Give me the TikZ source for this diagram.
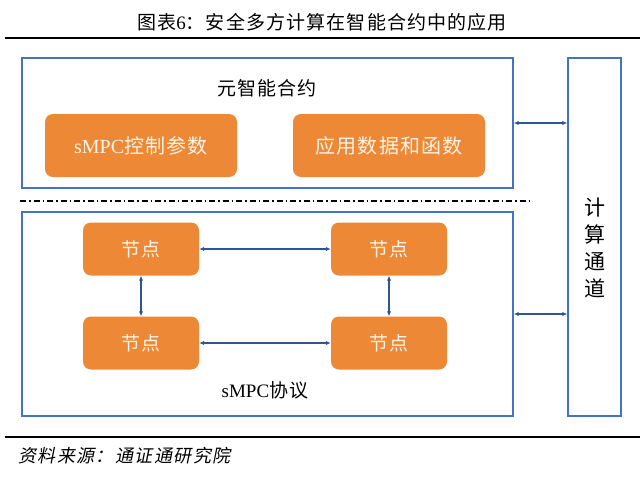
\documentclass[tikz,border=0pt]{standalone}
\usepackage{fontspec}
\setmainfont{Liberation Serif}
\newfontfamily\cjk{Noto Sans CJK SC}[LetterSpace=6]
\newfontfamily\cjkslant{Noto Sans CJK SC}[FakeSlant=0.2, LetterSpace=8]
\usetikzlibrary{arrows.meta,positioning}
\definecolor{boxorange}{RGB}{237,137,54}
\definecolor{boxtext}{RGB}{253,243,228}
\definecolor{lineblue}{RGB}{68,114,196}
\definecolor{arrowblue}{RGB}{47,85,151}

\begin{document}
\begin{tikzpicture}[
    x=1pt, y=-1pt,
    every node/.style={font=\fontsize{19}{22}\selectfont, inner sep=0pt},
    frame/.style={draw=lineblue, line width=1.4pt},
    block/.style={rectangle, rounded corners=8pt, fill=boxorange, text=boxtext},
    link/.style={{Latex[length=5pt,width=4.5pt]}-{Latex[length=5pt,width=4.5pt]}, arrowblue, line width=1.3pt},
    rule/.style={line width=2.6pt}
  ]
  \useasboundingbox (0,0) rectangle (640,480);
  % title and rules
  \node (title) at (322,22) {\fontsize{19}{22}\selectfont\cjk 图表\rmfamily 6\cjk ：安全多方计算在智能合约中的应用};
  \draw[rule] (5,38) -- (640,38);
  \draw[rule] (5,437) -- (640,437);
  \node[anchor=west] (source) at (18,456) {\fontsize{18}{20}\selectfont\cjkslant 资料来源：通证通研究院};

  % frames
  \node[frame, minimum width=491pt, minimum height=130pt] (meta) at (267.5,123) {};
  \node[frame, minimum width=491pt, minimum height=204pt] (proto) at (267.5,314) {};
  \node[frame, minimum width=53pt, minimum height=358pt] (channel) at (594.5,237) {};
  \draw[line width=1.2pt, dash pattern=on 6pt off 3pt on 1.5pt off 3pt] (20,201) -- (530,201);

  \node (metalab) at (267,88) {\cjk 元智能合约};
  \node (protolab) at (265,390) {sMPC\cjk 协议};
  \node[align=center, font=\fontsize{21}{27}\selectfont] (chlab) at (595,248) {\cjk 计\\\cjk 算\\\cjk 通\\\cjk 道};

  % smart contract parts
  \node[block, minimum width=192pt, minimum height=63pt] (param) at (141,145.5) {\fontsize{20}{22}\selectfont sMPC\cjk 控制参数};
  \node[block, minimum width=192pt, minimum height=63pt] (appdata) at (389,145.5) {\fontsize{20}{22}\selectfont\cjk 应用数据和函数};

  % protocol nodes
  \foreach \name/\px/\py in {n1/141/249, n2/389/249, n3/141/343, n4/389/343}{
    \node[block, minimum width=116pt, minimum height=53pt] (\name) at (\px,\py) {\cjk 节点};
  }
  \draw[link] (n1) -- (n2);
  \draw[link] (n3) -- (n4);
  \draw[link] (n1) -- (n3);
  \draw[link] (n2) -- (n4);
  \draw[link] (meta.east) -- (channel.west |- meta.east);
  \draw[link] (proto.east) -- (channel.west |- proto.east);
\end{tikzpicture}
\end{document}
